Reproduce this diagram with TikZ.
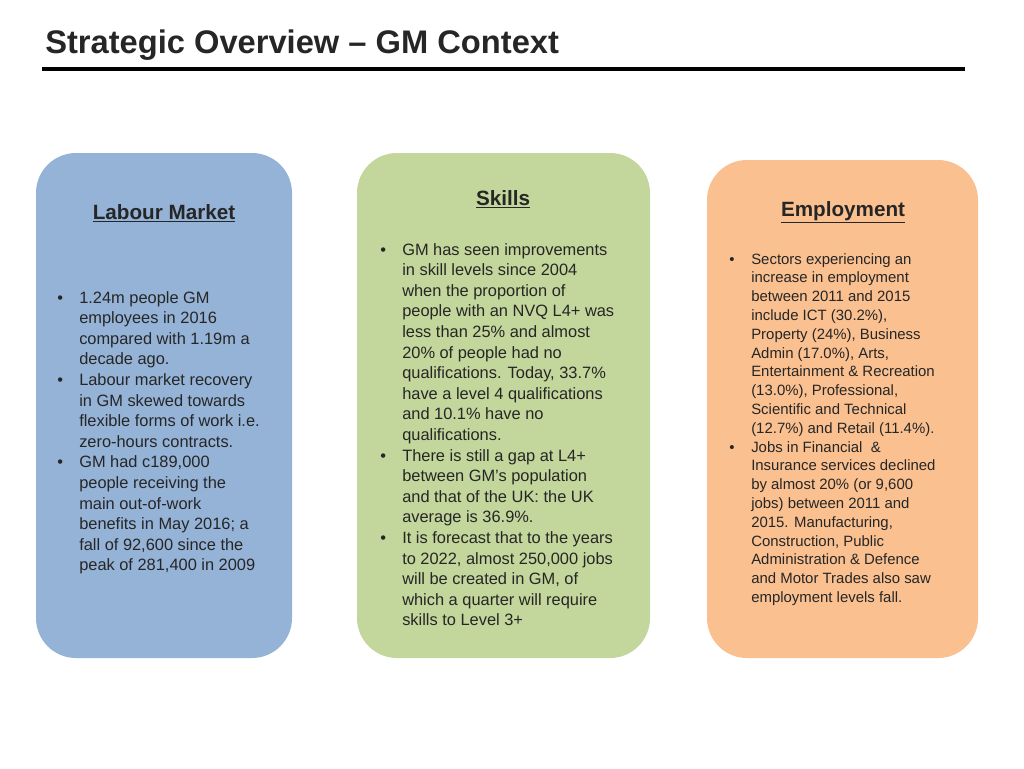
\documentclass[tikz,border=0pt]{standalone}
\usepackage{fontspec}
\setmainfont{Liberation Sans}
\definecolor{txt}{HTML}{262626}
\definecolor{bbox}{HTML}{95B3D7}
\definecolor{gbox}{HTML}{C3D69B}
\definecolor{obox}{HTML}{FAC090}
\tikzset{panel/.style={rounded corners=38\pgflinewidth, draw=none},
 ttl/.style={anchor=base, font=\fontsize{15.5}{18}\selectfont\bfseries, text=txt},
 body/.style={anchor=base west, inner sep=0pt, text=txt}}
\begin{document}
\begin{tikzpicture}[x=0.75pt,y=-0.75pt]
\useasboundingbox (0,0) rectangle (1024,768);
\fill[white] (0,0) rectangle (1024,768);
\node[anchor=base west, inner sep=0pt, font=\fontsize{24.5}{28}\selectfont\bfseries, text=txt] (title) at (45,53) {Strategic Overview -- GM Context};
\coordinate (la) at (42,69); \coordinate (lb) at (965,69);
\draw[line width=2.4pt] (la) -- (lb);
\fill[bbox, rounded corners=30pt] (36,153) rectangle (292,658);
\fill[gbox, rounded corners=30pt] (357,153) rectangle (650,658);
\fill[obox, rounded corners=30pt] (707,160) rectangle (978,658);
\node[ttl] (t1) at (164,219) {\underline{Labour Market}};
\node[ttl] (t2) at (503,205) {\underline{Skills}};
\node[ttl] (t3) at (843,216) {\underline{Employment}};
\node[body] (b1) at (57,303) {\fontsize{12.3}{15.45}\selectfont\begin{tabular}[t]{@{}p{16.5pt}@{}l@{}}
\textbullet & 1.24m people GM\\ & employees in 2016\\ & compared with 1.19m a\\ & decade ago.\\
\textbullet & Labour market recovery\\ & in GM skewed towards\\ & flexible forms of work i.e.\\ & zero-hours contracts.\\
\textbullet & GM had c189,000\\ & people receiving the\\ & main out-of-work\\ & benefits in May 2016; a\\ & fall of 92,600 since the\\ & peak of 281,400 in 2009
\end{tabular}};
\node[body] (b2) at (380,255) {\fontsize{12.3}{15.45}\selectfont\begin{tabular}[t]{@{}p{16.5pt}@{}l@{}}
\textbullet & GM has seen improvements\\ & in skill levels since 2004\\ & when the proportion of\\ & people with an NVQ L4+ was\\ & less than 25\% and almost\\ & 20\% of people had no\\ & qualifications. Today, 33.7\%\\ & have a level 4 qualifications\\ & and 10.1\% have no\\ & qualifications.\\
\textbullet & There is still a gap at L4+\\ & between GM’s population\\ & and that of the UK: the UK\\ & average is 36.9\%.\\
\textbullet & It is forecast that to the years\\ & to 2022, almost 250,000 jobs\\ & will be created in GM, of\\ & which a quarter will require\\ & skills to Level 3+
\end{tabular}};
\node[body] (b3) at (729,264) {\fontsize{11.2}{14.1}\selectfont\begin{tabular}[t]{@{}p{16.5pt}@{}l@{}}
\textbullet & Sectors experiencing an\\ & increase in employment\\ & between 2011 and 2015\\ & include ICT (30.2\%),\\ & Property (24\%), Business\\ & Admin (17.0\%), Arts,\\ & Entertainment \& Recreation\\ & (13.0\%), Professional,\\ & Scientific and Technical\\ & (12.7\%) and Retail (11.4\%).\\
\textbullet & Jobs in Financial \ \&\\ & Insurance services declined\\ & by almost 20\% (or 9,600\\ & jobs) between 2011 and\\ & 2015. Manufacturing,\\ & Construction, Public\\ & Administration \& Defence\\ & and Motor Trades also saw\\ & employment levels fall.
\end{tabular}};
\end{tikzpicture}
\end{document}
